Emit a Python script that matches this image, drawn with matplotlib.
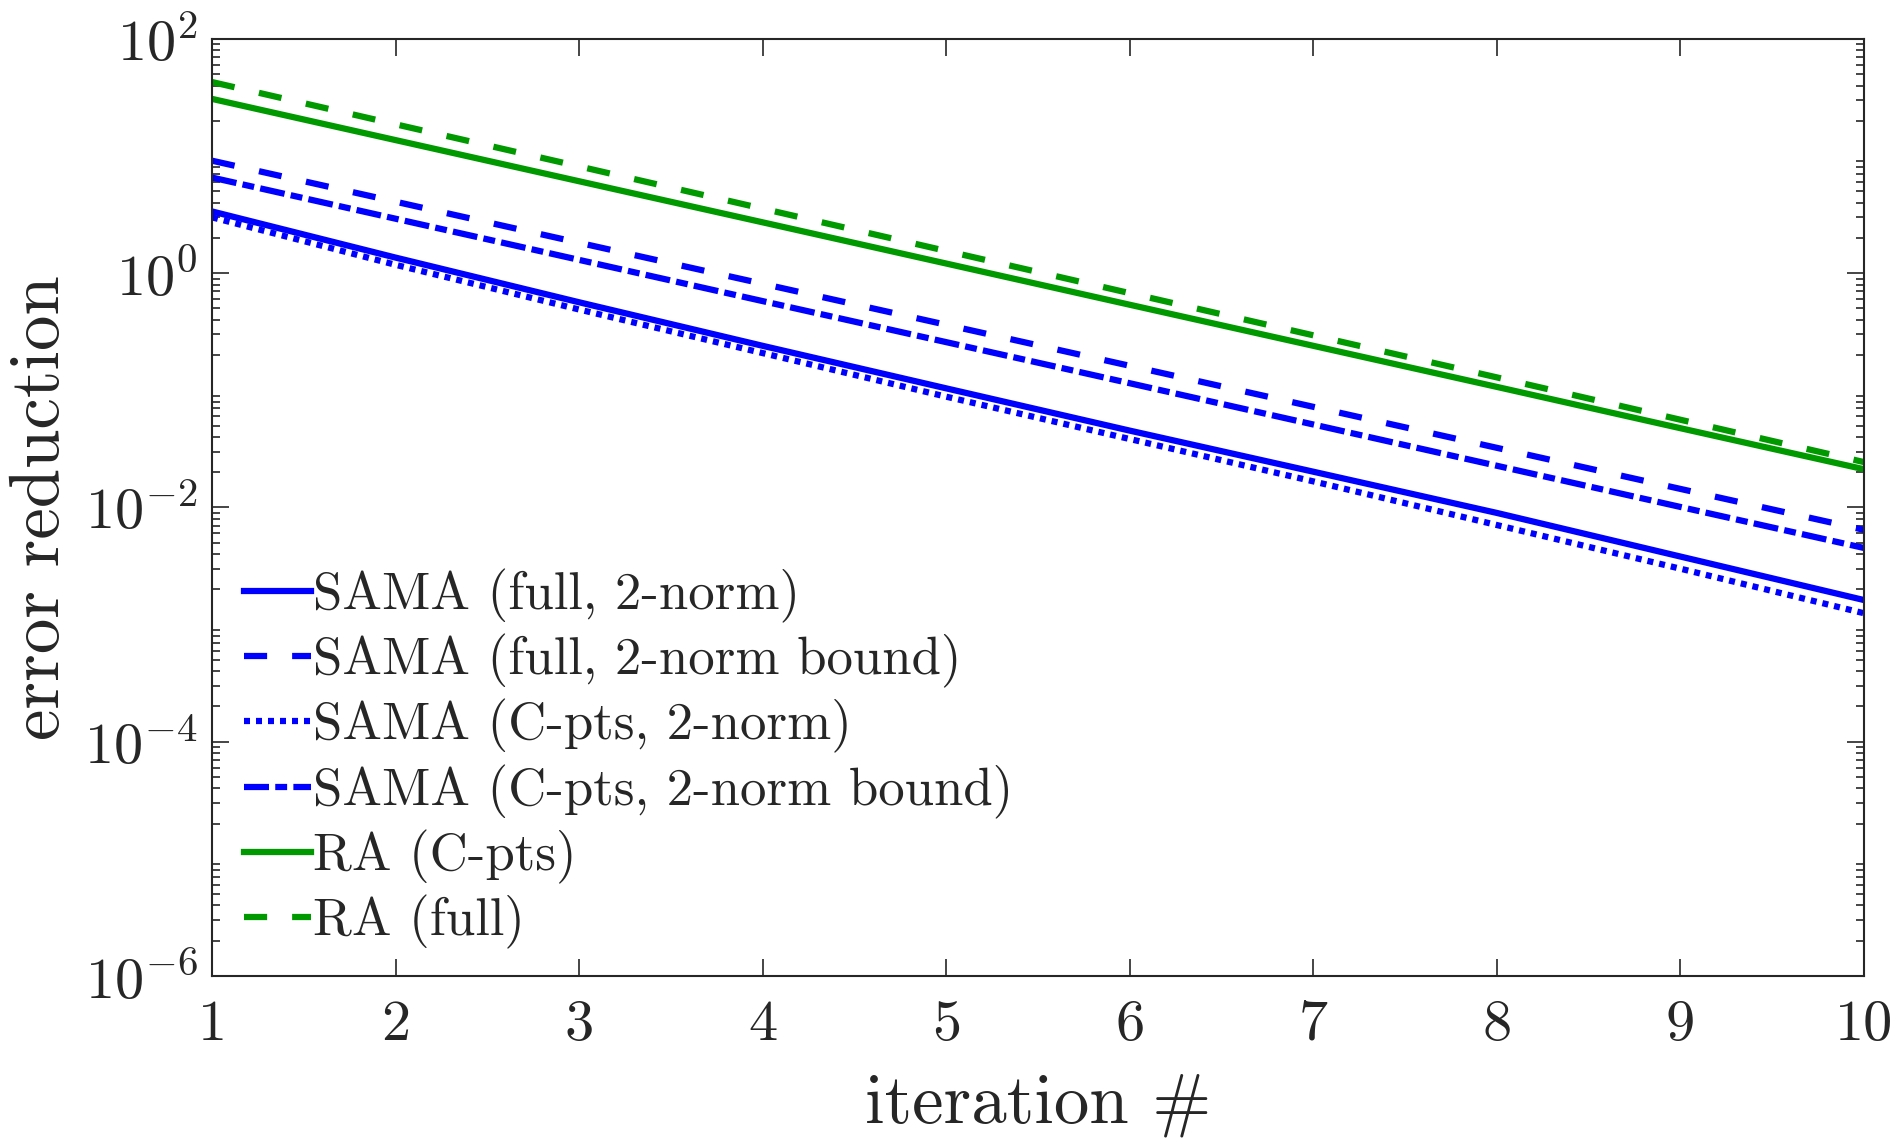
import matplotlib
matplotlib.use("Agg")
import matplotlib.pyplot as plt
import numpy as np

plt.rcParams['font.family'] = 'serif'
plt.rcParams['font.serif'] = ['cmr10', 'DejaVu Serif']
plt.rcParams['mathtext.fontset'] = 'cm'
plt.rcParams['axes.unicode_minus'] = False
plt.rcParams['axes.formatter.use_mathtext'] = True

iterations = [1, 2, 3, 4, 5, 6, 7, 8, 9, 10]
sama_full = [3.37, 1.36, 0.565, 0.24, 0.104, 0.0453, 0.0202, 0.00898, 0.00381, 0.00162]
sama_full_bound = [9.14, 4.08, 1.82, 0.813, 0.363, 0.162, 0.0723, 0.0323, 0.0144, 0.00644]
sama_c = [3.0, 1.18, 0.49, 0.208, 0.0883, 0.0384, 0.0167, 0.00708, 0.0030, 0.00125]
sama_c_bound = [6.56, 2.92, 1.30, 0.578, 0.258, 0.115, 0.0511, 0.0227, 0.0101, 0.00451]
ra_c = [30.8, 13.7, 6.10, 2.72, 1.21, 0.538, 0.240, 0.107, 0.0475, 0.0212]
ra_full = [42.9, 18.7, 8.17, 3.56, 1.55, 0.676, 0.295, 0.129, 0.0561, 0.0244]

labels = ['SAMA (full, 2-norm)', 'SAMA (full, 2-norm bound)', 'SAMA (C-pts, 2-norm)',
          'SAMA (C-pts, 2-norm bound)', 'RA (C-pts)', 'RA (full)']
yticks = [1e-6, 1e-4, 1e-2, 1e0, 1e2]
yticklabels = [r'$10^{-6}$', r'$10^{-4}$', r'$10^{-2}$', r'$10^{0}$', r'$10^{2}$']
xticks = [1, 2, 3, 4, 5, 6, 7, 8, 9, 10]

blue = (0, 0, 1)
green = (0, 0.6, 0)
lw = 4.5
dashed = (0, (3.7, 4.0))
dotted = (0, (0.96, 0.96))
dashdot = (0, (4.0, 1.0, 1.9, 1.0))

fig = plt.figure(figsize=(18.98, 11.40), dpi=100)
ax = fig.add_axes([0.1117, 0.1439, 0.8704, 0.8219])

ax.plot(iterations, sama_full, color=blue, lw=lw, linestyle='-', label=labels[0])
ax.plot(iterations, sama_full_bound, color=blue, lw=lw, linestyle=dashed, label=labels[1])
ax.plot(iterations, sama_c, color=blue, lw=lw, linestyle=dotted, label=labels[2])
ax.plot(iterations, sama_c_bound, color=blue, lw=lw, linestyle=dashdot, label=labels[3])
ax.plot(iterations, ra_c, color=green, lw=lw, linestyle='-', label=labels[4])
ax.plot(iterations, ra_full, color=green, lw=lw, linestyle=dashed, label=labels[5])

ax.set_yscale('log')
ax.set_xlim(1, 10)
ax.set_ylim(1e-6, 1e2)
ax.set_xticks(xticks)
ax.set_xticklabels([str(v) for v in xticks])
ax.set_yticks(yticks)
ax.set_yticklabels(yticklabels)
ax.yaxis.set_minor_locator(matplotlib.ticker.LogLocator(base=10, subs=np.arange(2, 10), numticks=20))
ax.yaxis.set_minor_formatter(matplotlib.ticker.NullFormatter())
ax.xaxis.set_minor_locator(matplotlib.ticker.NullLocator())

ax.tick_params(which='both', direction='in', top=True, right=True, colors='#262626',
               labelcolor='#262626', width=1.2)
ax.tick_params(which='major', length=12, labelsize=42)
ax.tick_params(axis='x', which='major', pad=17)
ax.tick_params(axis='y', which='major', pad=10)
ax.tick_params(which='minor', length=6)
for s in ax.spines.values():
    s.set_linewidth(1.5)
    s.set_color('#262626')

ax.set_xlabel('iteration #', fontsize=51, color='#262626', labelpad=16)
ax.set_ylabel('error reduction', fontsize=51, color='#262626', labelpad=8)

leg = ax.legend(loc='lower left', frameon=False, fontsize=38, handlelength=1.27,
                handletextpad=0.05, labelspacing=0.21, borderaxespad=0.2,
                bbox_to_anchor=(0.0, -0.005))
for t in leg.get_texts():
    t.set_color('#262626')

fig.savefig('out.png', dpi=100, facecolor='white')
